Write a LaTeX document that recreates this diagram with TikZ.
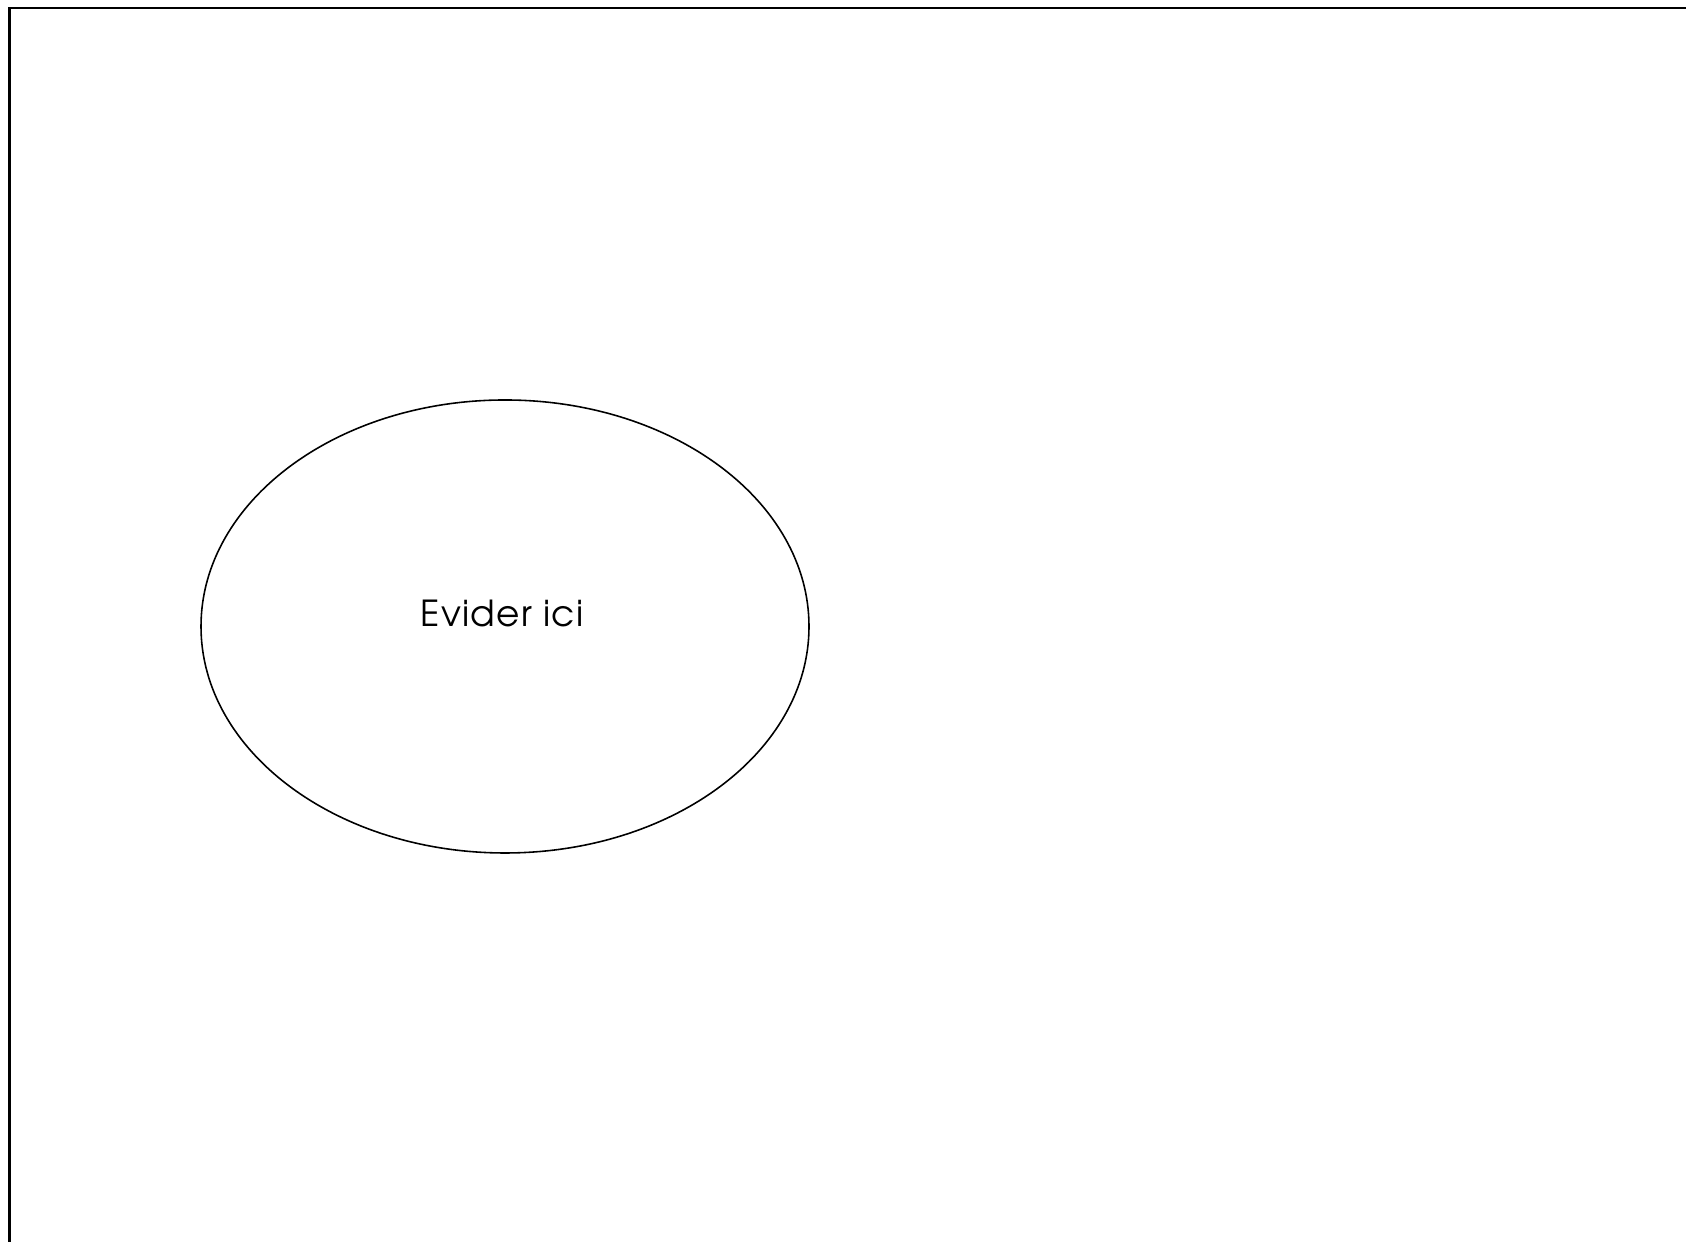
\documentclass[tikz,border=0pt]{standalone}
\usepackage{fontspec}
\newfontfamily\gothicfont[LetterSpace=3.5]{texgyreadventor-regular.otf}
\usepackage{tikz}
\usetikzlibrary{shapes.geometric}

\begin{document}
\begin{tikzpicture}[
        frame/.style={
            draw,
            line width=0.8pt
        },
        zone/.style={
            ellipse,
            draw,
            line width=0.45pt,
            minimum width=6.08cm,
            minimum height=4.53cm,
            inner sep=0pt
        },
        label/.style={
            font=\gothicfont\fontsize{10.2}{12}\selectfont,
            inner sep=0pt,
            anchor=base
        }
    ]
        \useasboundingbox (0,0) rectangle (16.86,12.42);
        \coordinate (corner) at (0.095,12.34);
        \coordinate (farend) at (17.5,-0.5);
        \draw[frame] (farend |- corner) -- (corner) -- (corner |- farend);
        \node[zone] (hole) at (5.05,6.155) {};
        \node[label] (holetext) at ([xshift=-0.03cm]hole.center) {Evider ici};
    \end{tikzpicture}
\end{document}
